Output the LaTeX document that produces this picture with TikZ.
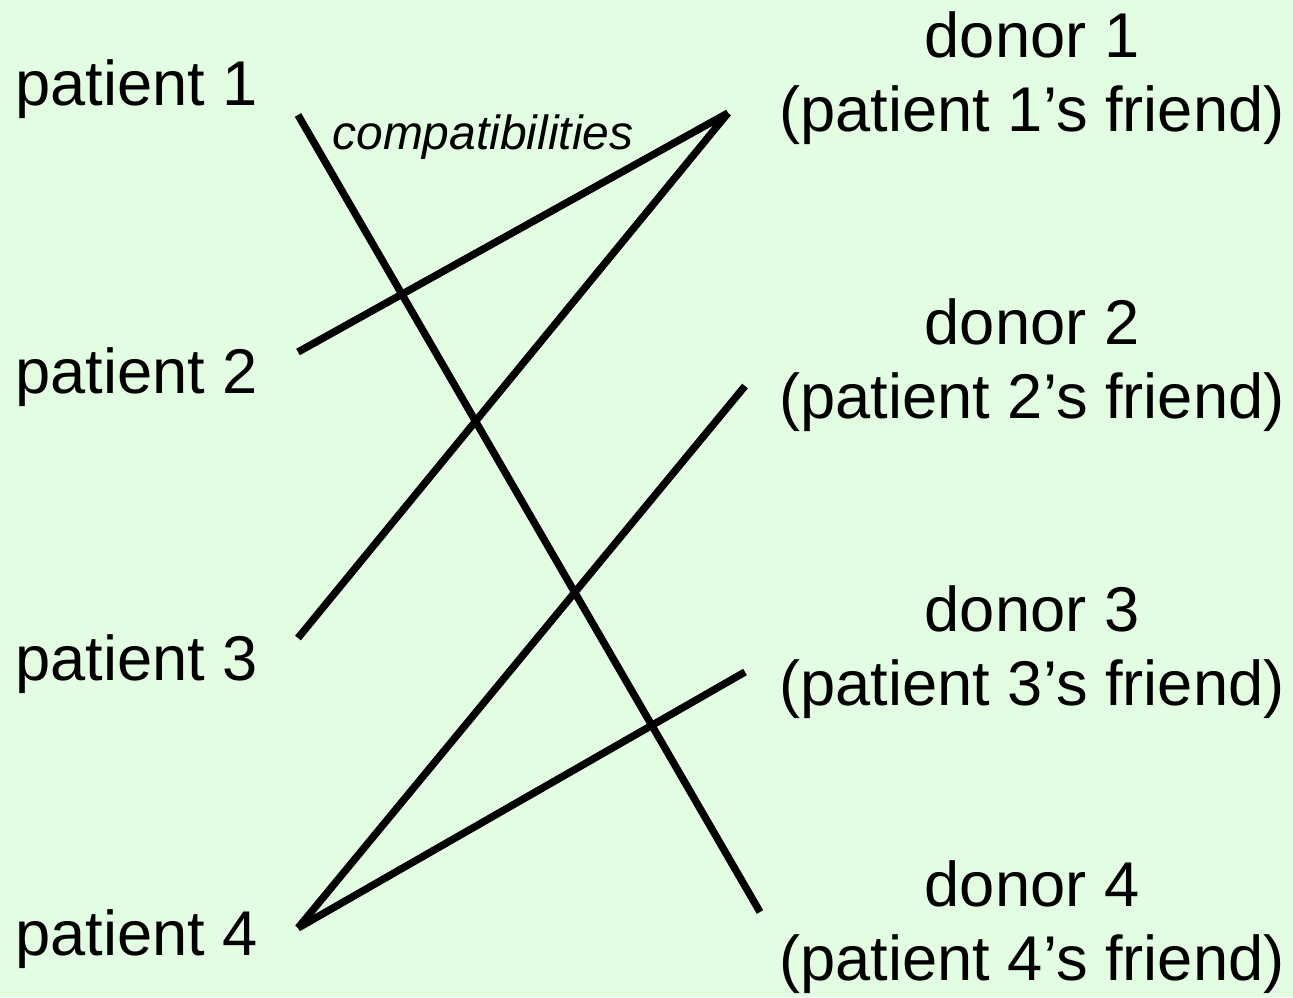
\documentclass[tikz,border=0pt]{standalone}
\usepackage{fontspec}
\setmainfont{Liberation Sans}
\definecolor{bg}{RGB}{227,253,227}
\begin{document}
\begin{tikzpicture}[x=0.02cm,y=-0.02cm,
  lbl/.style={inner sep=0pt,font=\fontsize{36}{42}\selectfont},
  dlbl/.style={inner sep=0pt,align=center,font=\fontsize{36}{42.5}\selectfont},
  edge/.style={line width=4.2pt,black},
  note/.style={inner sep=0pt,font=\fontsize{27.3}{30}\selectfont\itshape}]
\fill[bg] (0,0) rectangle (1293,997);
\useasboundingbox (0,0) rectangle (1293,997);
% patients
\node[lbl,anchor=base west] (pat1) at (15,105) {patient 1};
\node[lbl,anchor=base west] (pat2) at (15,393) {patient 2};
\node[lbl,anchor=base west] (pat3) at (15,680) {patient 3};
\node[lbl,anchor=base west] (pat4) at (15,955) {patient 4};
% donors
\node[dlbl] (don1) at (1032,78) {donor 1\\(patient 1’s friend)};
\node[dlbl] (don2) at (1032,365) {donor 2\\(patient 2’s friend)};
\node[dlbl] (don3) at (1032,652) {donor 3\\(patient 3’s friend)};
\node[dlbl] (don4) at (1032,927) {donor 4\\(patient 4’s friend)};
% connector ends
\coordinate (p1) at (298,115);
\coordinate (p2) at (298,352);
\coordinate (p3) at (298,638);
\coordinate (p4) at (298,928);
\coordinate (d1) at (728,113);
\coordinate (d2) at (745,386);
\coordinate (d3) at (745,672);
\coordinate (d4) at (760,912);
\draw[edge] (p1) -- (d4);
\draw[edge] (p2) -- (d1);
\draw[edge] (p3) -- (d1);
\draw[edge] (p4) -- (d2);
\draw[edge] (p4) -- (d3);
\node[note] (comp) at (483,137) {compatibilities};
\end{tikzpicture}
\end{document}
